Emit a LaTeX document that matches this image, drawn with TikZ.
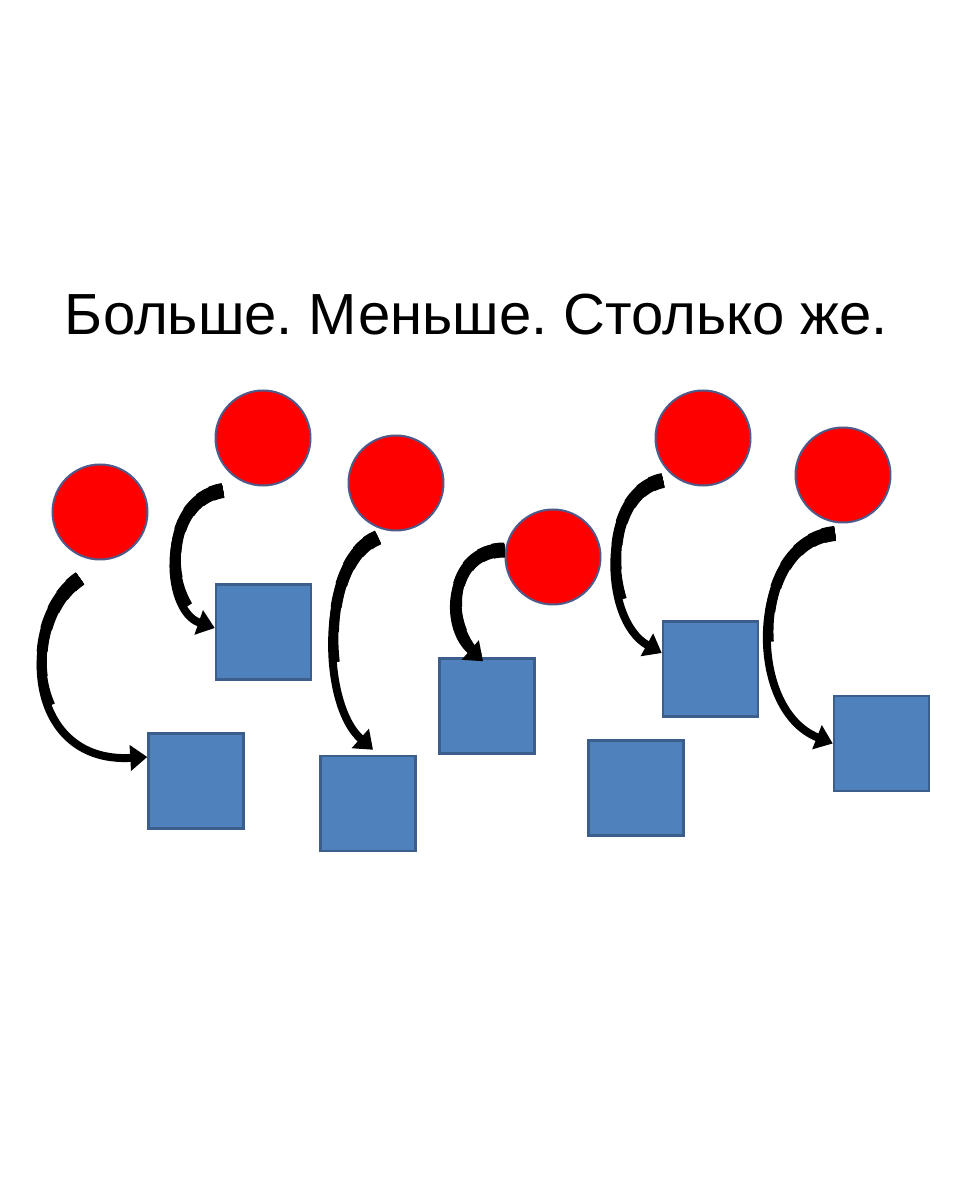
\documentclass[tikz,border=0pt]{standalone}
\usepackage{fontspec}
\setmainfont{Liberation Sans}
\usetikzlibrary{arrows.meta}
\definecolor{ballred}{HTML}{FF0000}
\definecolor{boxblue}{HTML}{4F81BD}
\definecolor{edgeblue}{HTML}{3B5E8C}
\definecolor{balledge}{HTML}{4D5A8A}
\frenchspacing

\tikzset{
	taper/.style args = {#1 on #2}{postaction={draw, -, line width=#1pt, dash pattern=on #2pt off 3000pt}}
}

\begin{document}
\begin{tikzpicture}[x=1pt, y=1pt, line width=2.5pt,
	ball/.style = {draw=balledge, fill=ballred, circle, minimum size=95pt, inner sep=0pt, line width=2pt},
	box/.style = {draw=edgeblue, fill=boxblue, minimum size=95pt, inner sep=0pt},
	curvearrow/.style = {line width=8pt, -{Triangle[width=25pt,length=17pt]},
		taper=9 on 140, taper=10 on 110, taper=11 on 85, taper=12 on 62,
		taper=13 on 42, taper=14 on 25, taper=15 on 12}]
		\useasboundingbox (0,0) rectangle (953,1200);
		\node[anchor=base, font=\fontsize{58}{62}\selectfont] (title) at (476.5,865) {Больше. Меньше. Столько же.};

		\node[ball] (c1) at (100,688) {};
		\node[ball] (c2) at (263,762) {};
		\node[ball] (c3) at (396,717) {};
		\node[ball] (c4) at (553,643) {};
		\node[ball] (c5) at (703,762) {};
		\node[ball] (c6) at (843,725) {};

		\node[box] (s1) at (196,419) {};
		\node[box] (s2) at (263.5,568) {};
		\node[box] (s3) at (368,396.5) {};
		\node[box] (s4) at (487,494) {};
		\node[box] (s5) at (636,412) {};
		\node[box] (s6) at (710.5,531) {};
		\node[box] (s7) at (881.5,456.5) {};

		\draw[curvearrow] ([shift={(-20,-18)}]c1.south) .. controls +(-60,-40) and +(-125,-7) .. ([yshift=24]s1.west);
		\draw[curvearrow] ([shift={(-40,-4)}]c2.south) .. controls +(-63,-10) and +(-52,18) .. ([yshift=4]s2.west);
		\draw[curvearrow] ([shift={(-18,-6)}]c3.south) .. controls +(-58,-23) and +(-53,47) .. ([shift={(5,5)}]s3.north);
		\draw[curvearrow] ([yshift=7]c4.west) .. controls +(-55,0) and +(-42,37) .. ([shift={(-4,-4)}]s4.north);
		\draw[curvearrow] ([shift={(-40,6)}]c5.south) .. controls +(-63,-12) and +(-60,33) .. ([yshift=16]s6.west);
		\draw[curvearrow] ([shift={(-8,-10)}]c6.south) .. controls +(-85,-8) and +(-88,35) .. (s7.west);
	\end{tikzpicture}
\end{document}
